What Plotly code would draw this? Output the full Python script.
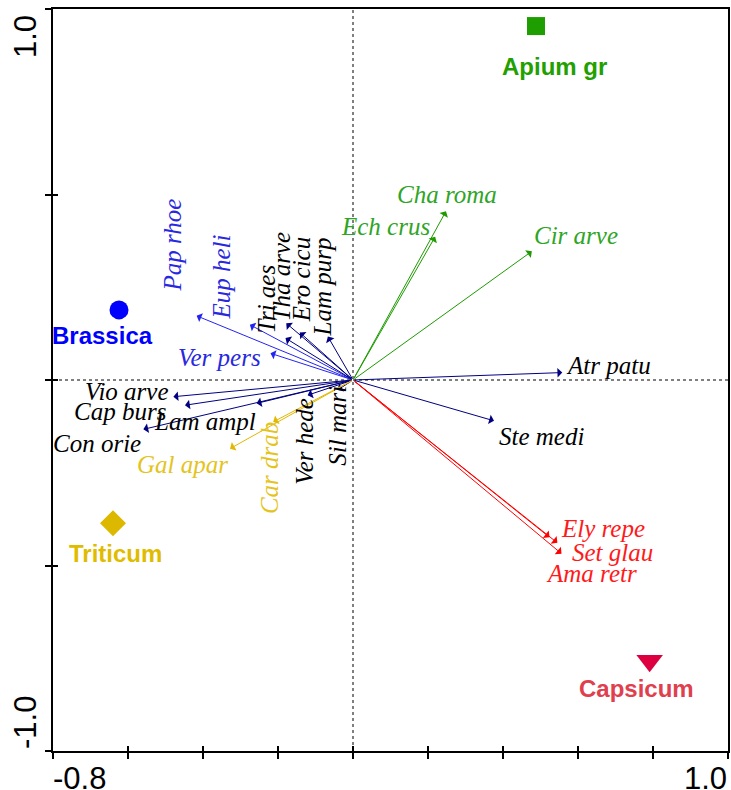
import plotly.graph_objects as go

# ---------------- data ----------------
species = ["Pap rhoe", "Eup heli", "Ver pers", "Tri aes", "Tha arve", "Ero cicu", "Lam purp",
           "Vio arve", "Cap burs", "Lam ampl", "Con orie", "Ver hede", "Sil mari",
           "Gal apar", "Car drab", "Atr patu", "Ste medi",
           "Cha roma", "Ech crus", "Cir arve", "Ely repe", "Ama retr", "Set glau"]
species_x = [-0.417, -0.275, -0.220, -0.180, -0.178, -0.142, -0.067,
             -0.479, -0.448, -0.257, -0.559, -0.121, -0.041,
             -0.328, -0.213, 0.558, 0.376,
             0.248, 0.219, 0.477, 0.524, 0.545, 0.556]
species_y = [0.173, 0.149, 0.072, 0.113, 0.153, 0.128, 0.117,
             -0.045, -0.068, -0.063, -0.133, -0.041, -0.027,
             -0.185, -0.113, 0.020, -0.110,
             0.455, 0.386, 0.347, -0.424, -0.439, -0.468]
species_group = ["blue", "blue", "blue", "navy", "navy", "navy", "navy",
                 "navy", "navy", "navy", "navy", "navy", "navy",
                 "gold", "gold", "navy", "navy",
                 "green", "green", "green", "red", "red", "red"]

samples = ["Apium gr", "Brassica", "Triticum", "Capsicum"]
sample_x = [0.488, -0.624, -0.640, 0.791]
sample_y = [0.954, 0.189, -0.386, -0.757]

x_ticks = [-0.8, -0.6, -0.4, -0.2, 0.0, 0.2, 0.4, 0.6, 0.8, 1.0]
y_ticks = [-1.0, -0.5, 0.0, 0.5, 1.0]
x_range = [-0.8, 1.0]
y_range = [-1.0, 1.0]

# ---------------- styles ----------------
arrow_color = {"blue": "#2424F0", "navy": "#000080", "gold": "#E2B800",
               "green": "#1E9B00", "red": "#FF0000"}
label_color = {"blue": "#2828E0", "navy": "#000000", "gold": "#E4C41C",
               "green": "#2EA526", "red": "#FF1A1A"}
# label offsets from arrow tip in pixels (dx right, dy up) and rotation
label_style = {
    "Pap rhoe": (-24, 71, -90), "Eup heli": (-28, 48, -90), "Ver pers": (-51, -4, 0),
    "Tri aes": (-19, 39, -90), "Tha arve": (-5, 47, -90), "Ero cicu": (2, 53, -90),
    "Lam purp": (-5, 50, -90), "Vio arve": (-46, 5, 0), "Cap burs": (-65, -6, 0),
    "Lam ampl": (-52, -18, 0), "Con orie": (-46, -14, 0), "Ver hede": (-3, -46, -90),
    "Sil mari": (-1, -36, -90), "Gal apar": (-48, -16, 0), "Car drab": (-3, -46, -90),
    "Atr patu": (46, 7, 0), "Ste medi": (47, -16, 0), "Cha roma": (1, 17, 0),
    "Ech crus": (-50, 10, 0), "Cir arve": (44, 16, 0), "Ely repe": (53, 9, 0),
    "Ama retr": (34, -31, 0), "Set glau": (51, 1, 0),
}
sample_style = {
    "Apium gr": dict(symbol="square", size=18, color="#1E9E00", label="#22A000", off=(18, -40)),
    "Brassica": dict(symbol="circle", size=19, color="#0000FF", label="#0000FF", off=(-17, -26)),
    "Triticum": dict(symbol="diamond", size=20, color="#DDB800", label="#E0BC00", off=(2, -30)),
    "Capsicum": dict(symbol="triangle-down", size=23, color="#DC0040", label="#E0404E", off=(-13, -28)),
}

fig = go.Figure()

# sample markers
for name, sx, sy in zip(samples, sample_x, sample_y):
    st = sample_style[name]
    fig.add_trace(go.Scatter(x=[sx], y=[sy], mode="markers",
                             marker=dict(symbol=st["symbol"], size=st["size"], color=st["color"],
                                         line=dict(width=0)),
                             showlegend=False, hoverinfo="skip"))

# dummy trace for overlay axes (inner tick marks)
fig.add_trace(go.Scatter(x=[None], y=[None], xaxis="x2", yaxis="y2", showlegend=False,
                         hoverinfo="skip"))

annotations = []
# species arrows
for name, sx, sy, g in zip(species, species_x, species_y, species_group):
    annotations.append(dict(x=sx, y=sy, ax=0, ay=0, xref="x", yref="y", axref="x", ayref="y",
                            text="", showarrow=True, arrowhead=1, arrowsize=1.6, arrowwidth=1,
                            arrowcolor=arrow_color[g], standoff=0, startstandoff=0))
# species labels
for name, sx, sy, g in zip(species, species_x, species_y, species_group):
    dx, dy, ang = label_style[name]
    annotations.append(dict(x=sx, y=sy, xref="x", yref="y", text="<i>%s</i>" % name,
                            showarrow=False, xshift=dx, yshift=dy, textangle=ang,
                            xanchor="center", yanchor="middle",
                            font=dict(family="Liberation Serif, Times New Roman, serif", size=25,
                                      color=label_color[g])))
# sample labels
for name, sx, sy in zip(samples, sample_x, sample_y):
    st = sample_style[name]
    annotations.append(dict(x=sx, y=sy, xref="x", yref="y", text="<b>%s</b>" % name,
                            showarrow=False, xshift=st["off"][0], yshift=st["off"][1],
                            xanchor="center", yanchor="middle",
                            font=dict(family="Liberation Sans, Arial, sans-serif", size=24,
                                      color=st["label"])))

# end tick labels of the axes
tick_font = dict(family="Liberation Sans, Arial, sans-serif", size=31, color="#000000")
annotations.append(dict(x=x_range[0], y=0, xref="x", yref="paper", text="%.1f" % x_range[0],
                        showarrow=False, xanchor="left", yanchor="top", xshift=-2, yshift=-8,
                        font=tick_font))
annotations.append(dict(x=x_range[1], y=0, xref="x", yref="paper", text="%.1f" % x_range[1],
                        showarrow=False, xanchor="right", yanchor="top", xshift=1, yshift=-8,
                        font=tick_font))
annotations.append(dict(x=0, y=y_range[1], xref="paper", yref="y", text="%.1f" % y_range[1],
                        showarrow=False, xanchor="right", yanchor="top", xshift=-8, yshift=-4,
                        textangle=-90, font=tick_font))
annotations.append(dict(x=0, y=y_range[0], xref="paper", yref="y", text="%.1f" % y_range[0],
                        showarrow=False, xanchor="right", yanchor="bottom", xshift=-8, yshift=0,
                        textangle=-90, font=tick_font))

# dotted zero lines
shapes = [
    dict(type="line", xref="x", yref="paper", x0=0, x1=0, y0=0, y1=1,
         line=dict(color="#000000", width=1, dash="3px,3px"), layer="below"),
    dict(type="line", xref="paper", yref="y", x0=0, x1=1, y0=0, y1=0,
         line=dict(color="#000000", width=1, dash="3px,3px"), layer="below"),
]

axis_common = dict(showgrid=False, zeroline=False, showticklabels=False)
fig.update_layout(
    width=731, height=790,
    margin=dict(l=53, r=1, t=9, b=39),
    paper_bgcolor="white", plot_bgcolor="white",
    showlegend=False,
    xaxis=dict(range=x_range, tickvals=x_ticks, ticks="outside", ticklen=6, tickwidth=2,
               tickcolor="#000000", showline=True, linecolor="#000000", linewidth=2,
               mirror=True, **axis_common),
    yaxis=dict(range=y_range, tickvals=y_ticks, ticks="outside", ticklen=6, tickwidth=2,
               tickcolor="#000000", showline=True, linecolor="#000000", linewidth=2,
               mirror=True, **axis_common),
    xaxis2=dict(range=x_range, tickvals=x_ticks, ticks="inside", ticklen=5, tickwidth=2,
                tickcolor="#000000", overlaying="x", anchor="y2", side="bottom",
                showline=False, **axis_common),
    yaxis2=dict(range=y_range, tickvals=y_ticks, ticks="inside", ticklen=5, tickwidth=2,
                tickcolor="#000000", overlaying="y", anchor="x2", side="left",
                showline=False, **axis_common),
    annotations=annotations,
    shapes=shapes,
)

post = ("document.documentElement.style.margin='0';document.documentElement.style.overflow='hidden';"
        "document.body.style.margin='0';document.body.style.overflow='hidden';"
        "var gd=document.getElementById('{plot_id}');"
        "gd.style.width='731px';gd.style.height='790px';"
        "Plotly.relayout(gd,{width:731,height:790});")
fig.write_html("out.html", post_script=post,
               config={"responsive": False, "displayModeBar": False})
